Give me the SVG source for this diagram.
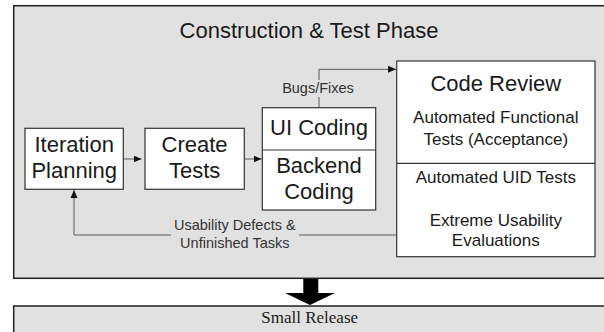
<svg xmlns="http://www.w3.org/2000/svg" width="604" height="332" viewBox="0 0 604 332">
  <style>
    .panel { fill: #e1e1e1; stroke: #222; stroke-width: 1.5; }
    .box { fill: #fff; stroke: #333; stroke-width: 1.2; }
    .link { fill: none; stroke: #5a5a5a; stroke-width: 1; }
    text { font-family: "Liberation Sans", Arial, sans-serif; fill: #1a1a1a; text-anchor: middle; }
    .big { font-size: 22px; }
    .mid { font-size: 17px; }
    .lbl { font-size: 14.5px; fill: #333; }
    .title { font-size: 22px; }
    .serif { font-family: "Liberation Serif", "Times New Roman", serif; font-size: 17px; }
  </style>
  <defs>
    <marker id="arrow" viewBox="0 0 8 8" refX="8" refY="4" markerWidth="8" markerHeight="8" markerUnits="userSpaceOnUse" orient="auto">
      <path d="M0,0.5 L8,4 L0,7.5 Z" fill="#111"/>
    </marker>
  </defs>

  <rect width="604" height="332" fill="#fff"/>

  <!-- Construction & Test phase panel -->
  <g id="phase">
    <rect class="panel" x="13.7" y="5.7" width="600" height="272.6"/>
    <text class="title" x="309" y="37.7">Construction &amp; Test Phase</text>
  </g>

  <!-- Release panel and the transition arrow -->
  <g id="release">
    <rect class="panel" x="13.7" y="306" width="600" height="40"/>
    <text class="serif" x="309.7" y="323.3">Small Release</text>
  </g>
  <g id="phase-arrow">
    <path d="M303.3,279 H318.3 V293 H335 L310,305 L285,293 H303.3 Z" fill="#000"/>
  </g>

  <!-- Connectors -->
  <g id="connectors">
    <line class="link" x1="123.3" y1="159" x2="141.5" y2="159" marker-end="url(#arrow)"/>
    <line class="link" x1="244.3" y1="159" x2="261.5" y2="159" marker-end="url(#arrow)"/>
    <polyline class="link" points="319,107.7 319,69.3 396,69.3" marker-end="url(#arrow)"/>
    <polyline class="link" points="396.7,235 74,235 74,190" marker-end="url(#arrow)"/>
    <!-- label backings -->
    <rect x="280" y="80" width="78" height="17" fill="#e1e1e1"/>
    <rect x="171" y="218" width="128" height="35" fill="#e1e1e1"/>
    <text class="lbl" x="318" y="93.3">Bugs/Fixes</text>
    <text class="lbl" x="234.8" y="230">Usability Defects &amp;</text>
    <text class="lbl" x="234.8" y="248.3">Unfinished Tasks</text>
  </g>

  <g id="iteration-planning">
    <rect class="box" x="25" y="128.3" width="98.3" height="61"/>
    <text class="big" x="74.2" y="151.7">Iteration</text>
    <text class="big" x="74.2" y="178.2">Planning</text>
  </g>

  <g id="create-tests">
    <rect class="box" x="145" y="128.3" width="99.3" height="61"/>
    <text class="big" x="194.6" y="151.7">Create</text>
    <text class="big" x="194.6" y="177.5">Tests</text>
  </g>

  <g id="coding">
    <rect class="box" x="262.3" y="107.7" width="113.4" height="102.3"/>
    <line x1="262.3" y1="150" x2="375.7" y2="150" stroke="#333" stroke-width="1.2"/>
    <text class="big" x="319" y="135">UI Coding</text>
    <text class="big" x="319" y="172.7">Backend</text>
    <text class="big" x="319" y="199">Coding</text>
  </g>

  <g id="code-review">
    <rect class="box" x="396.7" y="61" width="198.3" height="195.7"/>
    <line x1="396.7" y1="163.3" x2="595" y2="163.3" stroke="#333" stroke-width="1.2"/>
    <text class="big" x="495.8" y="90.7">Code Review</text>
    <text class="mid" x="495.8" y="122.7">Automated Functional</text>
    <text class="mid" x="495.8" y="145">Tests (Acceptance)</text>
    <text class="mid" x="495.8" y="182.7">Automated UID Tests</text>
    <text class="mid" x="495.8" y="226">Extreme Usability</text>
    <text class="mid" x="495.8" y="246">Evaluations</text>
  </g>
</svg>
